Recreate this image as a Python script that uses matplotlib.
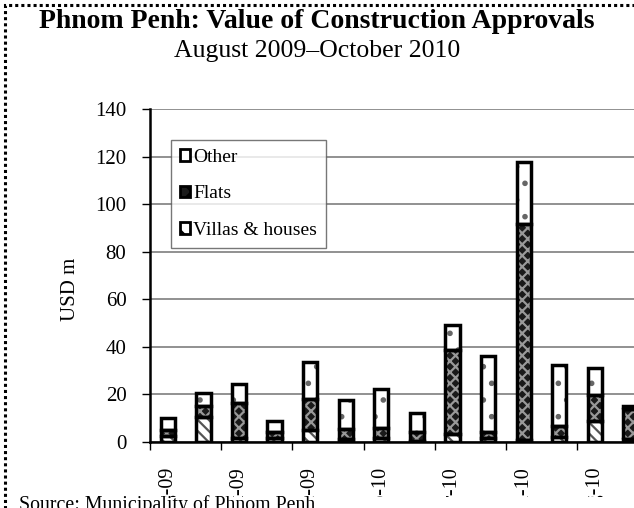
import matplotlib
matplotlib.use('Agg')
import matplotlib.pyplot as plt
from matplotlib.patches import Rectangle, Patch
import numpy as np

# Data (USD m)
months = ['Aug-09', 'Sep-09', 'Oct-09', 'Nov-09', 'Dec-09', 'Jan-10', 'Feb-10', 'Mar-10',
          'Apr-10', 'May-10', 'Jun-10', 'Jul-10', 'Aug-10', 'Sep-10', 'Oct-10']
villas = [2.5, 10.5, 1.5, 1.5, 5.0, 1.4, 1.7, 0.5, 3.5, 1.8, 0.8, 2.1, 8.9, 1.4, 2.0]
flats = [2.5, 4.5, 15.0, 2.5, 13.0, 4.2, 4.0, 3.7, 35.2, 2.4, 91.0, 4.5, 10.8, 12.4, 10.0]
other = [5.0, 5.5, 7.8, 5.0, 15.6, 12.0, 16.5, 8.0, 10.5, 32.0, 25.8, 25.8, 11.4, 1.3, 8.0]

plt.rcParams['font.family'] = ['Liberation Serif', 'DejaVu Serif']
plt.rcParams['hatch.linewidth'] = 1.6

fig = plt.figure(figsize=(6.34, 5.08), dpi=100)
ax = fig.add_axes([0.2366, 0.130, 0.842, 0.655])

x = np.arange(len(months))
villas = np.array(villas)
flats = np.array(flats)
other = np.array(other)
w = 0.40

# filled/hatched segments
ax.bar(x, villas, w, color='white', edgecolor='#555555', hatch='\\\\\\', linewidth=0, zorder=3)
ax.bar(x, flats, w, bottom=villas, color='#1a1a1a', edgecolor='#999999', hatch='xxx',
       linewidth=0, zorder=3)
ax.bar(x, other, w, bottom=villas + flats, color='white', edgecolor='#666666', hatch='.',
       linewidth=0, zorder=3)
# thick black outlines
for vals, bot in [(villas, 0), (flats, villas), (other, villas + flats)]:
    ax.bar(x, vals, w, bottom=bot, fill=False, edgecolor='black', linewidth=2.5, zorder=4)

ax.set_xlim(-0.5, len(months) - 0.5)
ax.set_ylim(0, 140)
ax.set_yticks(range(0, 141, 20))
ax.yaxis.grid(True, color='#888888', linewidth=1.3, zorder=0)
ax.set_axisbelow(True)

ax.set_xticks(x[::2])
ax.set_xticklabels(months[::2], rotation=90, fontsize=14.5)
ax.set_xticks(np.arange(-0.5, len(months), 2), minor=True)
ax.tick_params(axis='x', which='major', length=0, pad=18)
ax.tick_params(axis='x', which='minor', length=6, width=1, direction='out')
ax.tick_params(axis='y', labelsize=15, length=6, width=1, direction='out', pad=11)

for s in ['top', 'right']:
    ax.spines[s].set_visible(False)
ax.spines['left'].set_linewidth(1.8)
ax.spines['bottom'].set_linewidth(1.8)

ax.set_ylabel('USD m', fontsize=15)
ax.yaxis.set_label_coords(-0.132, 0.46)

handles = [
    Patch(facecolor='white', edgecolor='black', hatch='.', linewidth=2),
    Patch(facecolor='#1a1a1a', edgecolor='black', hatch='xx', linewidth=2),
    Patch(facecolor='white', edgecolor='black', hatch='\\\\', linewidth=2),
]
leg = ax.legend(handles, ['Other', 'Flats', 'Villas & houses'], loc='upper left',
                bbox_to_anchor=(0.039, 0.907), fontsize=14, frameon=True, fancybox=False,
                edgecolor='#555555', handlelength=0.55, handleheight=0.55, handletextpad=0.15,
                labelspacing=1.0, borderpad=0.45, borderaxespad=0)
leg.get_frame().set_linewidth(1.0)

fig.text(0.5, 0.958, 'Phnom Penh: Value of Construction Approvals', ha='center', va='center',
         fontsize=20, fontweight='bold')
fig.text(0.5, 0.90, 'August 2009\u2013October 2010', ha='center', va='center', fontsize=18.5)

# white band at the bottom (tick labels are clipped there) with the source note
band = Rectangle((0, 0), 1, 0.022, transform=fig.transFigure, facecolor='white',
                 edgecolor='none', zorder=9)
fig.patches.append(band)
fig.text(0.03, 0.026, 'Source: Municipality of Phnom Penh', ha='left', va='top', fontsize=14.3,
         zorder=10)

border = Rectangle((0.008, -0.05), 1.1, 1.04, transform=fig.transFigure, fill=False,
                   edgecolor='black', linewidth=2.2, linestyle=(0, (1, 1)), clip_on=False,
                   zorder=11)
fig.patches.append(border)

fig.savefig('out.png', dpi=100)
